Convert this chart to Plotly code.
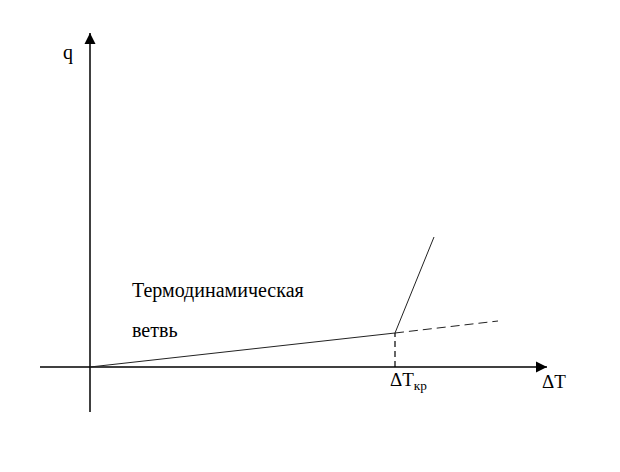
import plotly.graph_objects as go

# Schematic data (abstract units: ΔT horizontally, q vertically)
dT_branch = [0, 305]          # thermodynamic branch
q_branch = [0, 34]
dT_steep = [305, 344]         # steep rise after ΔT_кр
q_steep = [34, 130]
dT_dash = [305, 408]          # dashed continuation of thermodynamic branch
q_dash = [34, 46]
dT_kr = 305                   # critical ΔT
q_kr = 34

x_axis_span = [-50, 457]
y_axis_span = [-45, 334]

label_q = "q"
label_dT = "ΔT"
label_dTkr = "ΔT<sub>кр</sub>"
label_branch = ["Термодинамическая", "ветвь"]

FONT = "Times New Roman"
line_col = "#222222"

fig = go.Figure()
# axes
fig.add_trace(go.Scatter(x=x_axis_span, y=[0, 0], mode="lines",
                         line=dict(color="black", width=1.6), hoverinfo="skip"))
fig.add_trace(go.Scatter(x=[0, 0], y=y_axis_span, mode="lines",
                         line=dict(color="black", width=1.5), hoverinfo="skip"))
fig.add_trace(go.Scatter(x=[x_axis_span[1]], y=[0], mode="markers",
                         marker=dict(symbol="arrow-right", size=11, color="black",
                                     line=dict(width=0)), hoverinfo="skip"))
fig.add_trace(go.Scatter(x=[0], y=[y_axis_span[1]], mode="markers",
                         marker=dict(symbol="arrow-up", size=11, color="black",
                                     line=dict(width=0)), hoverinfo="skip"))
# curves
fig.add_trace(go.Scatter(x=dT_branch, y=q_branch, mode="lines",
                         line=dict(color=line_col, width=1), hoverinfo="skip"))
fig.add_trace(go.Scatter(x=dT_steep, y=q_steep, mode="lines",
                         line=dict(color=line_col, width=1), hoverinfo="skip"))
fig.add_trace(go.Scatter(x=dT_dash, y=q_dash, mode="lines",
                         line=dict(color=line_col, width=1, dash="9px,5px"), hoverinfo="skip"))
fig.add_trace(go.Scatter(x=[dT_kr, dT_kr], y=[0, q_kr], mode="lines",
                         line=dict(color="black", width=1.2, dash="6px,4px"), hoverinfo="skip"))

annotations = [
    dict(x=-22, y=315, text=label_q, showarrow=False, xanchor="center",
         font=dict(family=FONT, size=20, color="black")),
    dict(x=464, y=-14, text=label_dT, showarrow=False, xanchor="center",
         font=dict(family=FONT, size=19, color="black")),
    dict(x=dT_kr - 7, y=-14, text=label_dTkr, showarrow=False, xanchor="left",
         font=dict(family=FONT, size=19, color="black")),
    dict(x=40, y=77, text=label_branch[0], showarrow=False, xanchor="left",
         font=dict(family=FONT, size=20, color="black")),
    dict(x=40, y=37, text=label_branch[1], showarrow=False, xanchor="left",
         font=dict(family=FONT, size=20, color="black")),
]

fig.update_layout(
    width=620, height=472,
    margin=dict(l=0, r=0, t=0, b=0),
    showlegend=False,
    annotations=annotations,
    xaxis=dict(range=[-82, 538], visible=False),
    yaxis=dict(range=[-113, 359], visible=False),
    plot_bgcolor="white",
)

fig.write_html("out.html")
